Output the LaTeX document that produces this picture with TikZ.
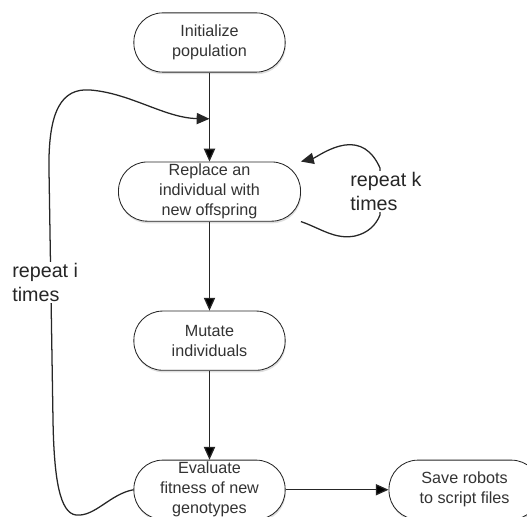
\documentclass[tikz,border=0pt]{standalone}
\usepackage{fontspec}
\setmainfont{Liberation Sans}
\usetikzlibrary{positioning, arrows.meta, shadows, calc}

\begin{document}
\begin{tikzpicture}[x=0.025cm, y=-0.025cm, node distance=2.225cm,
  >={Triangle[length=3.2mm,width=2.8mm]},
  main node/.style={rectangle, rounded corners=0.72cm, draw=black!85, line width=0.6pt,
    fill=white, minimum width=3.78cm, minimum height=1.48cm, inner sep=0pt,
    align=center, text=black!80, font=\fontsize{11.5}{14.2}\selectfont,
    drop shadow={shadow xshift=0.5pt, shadow yshift=-1.5pt, opacity=0.25}},
  note/.style={fill=white, align=left, inner sep=1pt, text=black!85,
    font=\fontsize{14}{16.5}\selectfont}]

\clip (0,0) rectangle (527,517);

\node[main node] (init) at (209.5,42.5) {Initialize\\population};
\node[main node, minimum width=4.55cm] (replace) [below=of init] {Replace an\\individual with\\new offspring};
\node[main node] (mutate) [below=of replace] {Mutate\\individuals};
\node[main node] (evaluate) [below=of mutate] {Evaluate\\fitness of new\\genotypes};
\node[main node] (save) [right=2.575cm of evaluate] {Save robots\\to script files};

\coordinate (join) at ($(init.south)!0.52!(replace.north)$);

\path[->, draw=black!85, line width=0.9pt]
(init) edge (replace)
(replace) edge (mutate)
(mutate) edge (evaluate)
(evaluate) edge (save)
;

% outer loop
\draw[->, black!85, line width=0.9pt] (evaluate.west)
  .. controls (110,494) and (95,517) .. (76,515)
  .. controls (60,513) and (54,480) .. (53,420)
  -- node[note, pos=0.55, xshift=-0.14cm] {repeat i\\times} (49,170)
  .. controls (48,110) and (62,88) .. (90,90)
  .. controls (130,93) and (165,118) .. (join);

% inner loop
\draw[->, black!85, line width=0.9pt] (replace.south east)
  .. controls (320,228) and (335,240) .. (355,236)
  .. controls (368,233) and (376,225) .. (380,215)
  -- node[note, xshift=0.15cm] {repeat k\\times} (380,168)
  .. controls (372,150) and (360,143) .. (345,145)
  .. controls (330,147) and (315,158) .. (replace.north east);

\end{tikzpicture}
\end{document}
